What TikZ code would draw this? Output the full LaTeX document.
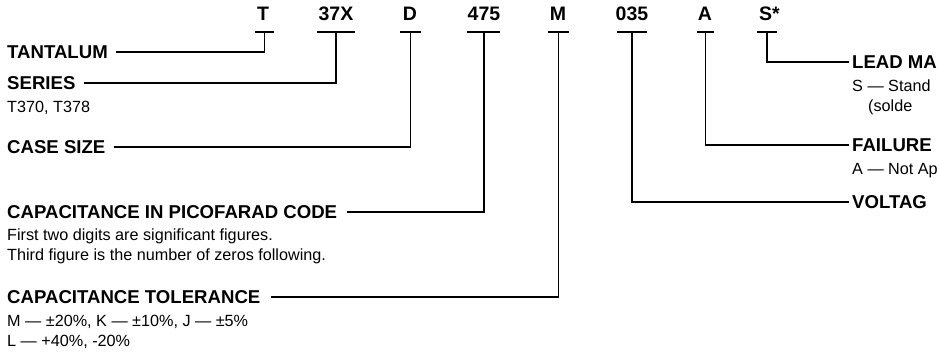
\documentclass[tikz,border=0pt]{standalone}
\usepackage{fontspec}
\setmainfont{Liberation Sans}
\begin{document}
\begin{tikzpicture}[x=1pt,y=-1pt,
  code/.style={font=\fontsize{19.5}{21}\selectfont\bfseries,anchor=base,inner sep=0pt},
  head/.style={font=\fontsize{18.6}{20}\selectfont\bfseries,anchor=west,inner sep=0pt,text height=13.3pt,text depth=0pt},
  sub/.style={font=\fontsize{16.2}{20}\selectfont,anchor=base west,inner sep=0pt,align=left},
  bar/.style={line width=1.9pt},
  conn/.style={line width=1.9pt}]
\useasboundingbox (0,0) rectangle (937,352);
% code letters
\node[code] (kT) at (263,21) {T};
\node[code] (k37) at (336,21) {37X};
\node[code] (kD) at (410,21) {D};
\node[code] (k475) at (484,21) {475};
\node[code] (kM) at (558,21) {M};
\node[code] (k035) at (632,21) {035};
\node[code] (kA) at (705,21) {A};
\node[code,anchor=base west] (kS) at (759,21) {S*};
% crossbar centres
\coordinate (cT) at (264.5,32);
\coordinate (c37) at (336,32);
\coordinate (cD) at (410.5,32);
\coordinate (c475) at (484,32);
\coordinate (cM) at (558.5,32);
\coordinate (c035) at (632,32);
\coordinate (cA) at (705.5,32);
\coordinate (cS) at (767,32);
\draw[bar] (255,32) -- (274,32);
\draw[bar] (317,32) -- (355,32);
\draw[bar] (400,32) -- (421,32);
\draw[bar] (467,32) -- (500,32);
\draw[bar] (548,32) -- (569,32);
\draw[bar] (617,32) -- (647,32);
\draw[bar] (697,32) -- (714,32);
\draw[bar] (757,32) -- (777,32);
% left headings
\node[head] (tant) at (7,51.7) {TANTALUM};
\node[head] (ser) at (7,83) {SERIES};
\node[sub] (sersub) at (7,113) {T370, T378};
\node[head] (case) at (7,147) {CASE SIZE};
\node[head] (cap) at (7,212) {CAPACITANCE IN PICOFARAD CODE};
\node[sub] (capsub1) at (7,241) {First two digits are significant figures.};
\node[sub] (capsub2) at (7,261) {Third figure is the number of zeros following.};
\node[head] (tol) at (7,297) {CAPACITANCE TOLERANCE};
\node[sub] (tolsub1) at (7,327) {M — ±20\%, K — ±10\%, J — ±5\%};
\node[sub] (tolsub2) at (7,347) {L — +40\%, -20\%};
% right headings
\node[head] (lead) at (852,62) {LEAD MA};
\node[sub] (leadsub1) at (852,91.5) {S — Stand};
\node[sub] (leadsub2) at (868,111.5) {(solde};
\node[head] (fail) at (852,145) {FAILURE};
\node[sub] (failsub) at (852,174.5) {A — Not Ap};
\node[head] (volt) at (852,202) {VOLTAG};
% connectors
\draw[conn] ([xshift=8pt]tant.east) -| (cT);
\draw[conn] ([xshift=8pt]ser.east) -| (c37);
\draw[conn] ([xshift=8pt]case.east) -| (cD);
\draw[conn] ([xshift=10pt]cap.east) -| (c475);
\draw[conn] ([xshift=10pt]tol.east) -| (cM);
\draw[conn] (c035) |- ([xshift=-3pt]volt.west);
\draw[conn] (cA) |- ([xshift=-3pt]fail.west);
\draw[conn] (cS) |- ([xshift=-3pt]lead.west);
\end{tikzpicture}
\end{document}
